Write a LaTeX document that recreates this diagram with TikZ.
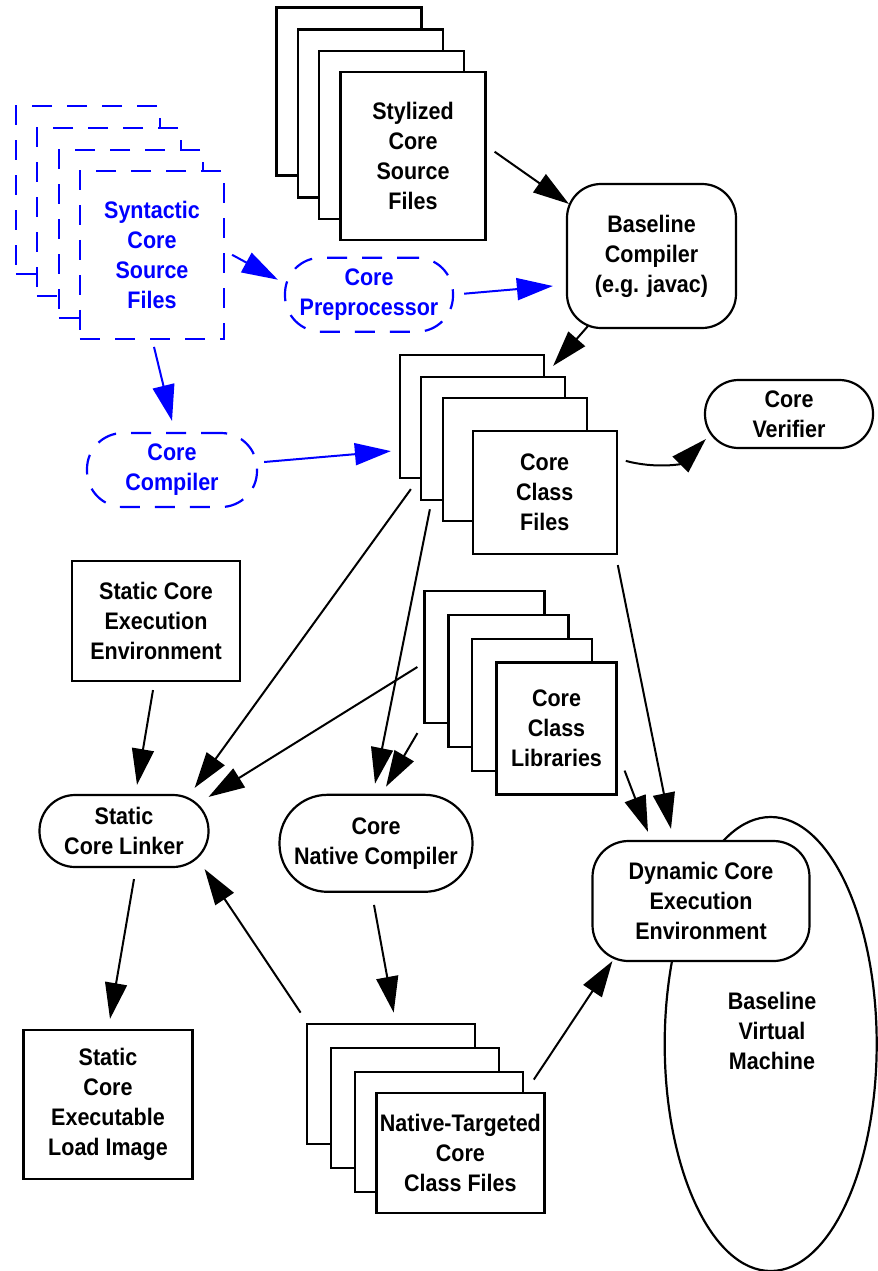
\documentclass[tikz,border=0pt]{standalone}
\usepackage{fontspec}
\setmainfont{Liberation Sans}[FakeStretch=0.9]
\usetikzlibrary{arrows.meta,shapes.geometric}

\begin{document}
\begin{tikzpicture}[x=0.25mm,y=-0.25mm,
	doc/.style={draw, fill=white, line width=0.55mm, inner sep=0pt, align=center, font=\bfseries\fontsize{17pt}{21.3pt}\selectfont},
	syn/.style={doc, draw=blue, text=blue, dash pattern=on 5mm off 3.75mm},
	srcfile/.style={doc, minimum width=36.25mm, minimum height=42mm},
	synfile/.style={syn, minimum width=36mm, minimum height=42mm},
	clsfile/.style={doc, minimum width=36mm, minimum height=30.75mm},
	libfile/.style={doc, minimum width=30mm, minimum height=33mm},
	natfile/.style={doc, minimum width=42mm, minimum height=30mm},
	proc/.style={doc, rounded corners=#1},
	arr/.style={-{Triangle[length=9mm,width=5.5mm]}, line width=0.5mm},
	synarr/.style={arr, blue}]
	\useasboundingbox (0,0) rectangle (878,1271);

	% source files
	\node[srcfile] (sty1) at (349,91.5) {};
	\node[srcfile] (sty2) at (370.5,113.5) {};
	\node[srcfile] (sty3) at (391.5,135) {};
	\node[srcfile] (sty4) at (413,155.7) {Stylized\\Core\\Source\\Files};

	\node[synfile] (syn1) at (88,190.3) {};
	\node[synfile] (syn2) at (109,212) {};
	\node[synfile] (syn3) at (131,234) {};
	\node[synfile] (syn4) at (152,254.8) {Syntactic\\Core\\Source\\Files};

	\node[syn, rounded corners=9mm, minimum width=42mm, minimum height=18.5mm] (prep) at (369,294.7) {Core\\Preprocessor};
	\node[proc=8.5mm, minimum width=42.25mm, minimum height=36mm] (bcomp) at (651.5,256) {Baseline\\Compiler\\(e.g. javac)};

	% class files
	\node[clsfile] (ccf1) at (472,416.5) {};
	\node[clsfile] (ccf2) at (493,438.7) {};
	\node[clsfile] (ccf3) at (514.7,459.7) {};
	\node[clsfile] (ccf4) at (544.7,492.5) {Core\\Class\\Files};

	\node[proc=8.4mm, minimum width=42mm, minimum height=17mm] (verif) at (789,414) {Core\\Verifier};
	\node[syn, rounded corners=9mm, minimum width=42.5mm, minimum height=18.5mm] (ccomp) at (172,470) {Core\\Compiler};

	\node[doc, minimum width=42mm, minimum height=30mm] (scee) at (156,621) {Static Core\\Execution\\Environment};
	\node[proc=8.9mm, minimum width=42.25mm, minimum height=18mm] (scl) at (124,831) {Static\\Core Linker};
	\node[proc=12mm, minimum width=48.25mm, minimum height=24.25mm] (cnc) at (376,843.3) {Core\\Native Compiler};

	% libraries
	\node[libfile] (ccl1) at (484.5,657) {};
	\node[libfile] (ccl2) at (508.5,681) {};
	\node[libfile] (ccl3) at (532.3,705) {};
	\node[libfile] (ccl4) at (556.5,728.5) {Core\\Class\\Libraries};

	% vm
	\node[ellipse, draw, line width=0.55mm, minimum width=53mm, minimum height=113.5mm, inner sep=0pt] (bvm) at (770.7,1044) {};
	\node[doc, draw=none, fill=none] (bvmtext) at (772,1031) {Baseline\\Virtual\\Machine};
	\node[proc=9mm, minimum width=54.25mm, minimum height=30mm] (dcee) at (701,901) {Dynamic Core\\Execution\\Environment};

	\node[natfile] (ntc1) at (390.7,1083.7) {};
	\node[natfile] (ntc2) at (414.9,1108) {};
	\node[natfile] (ntc3) at (438.7,1131.7) {};
	\node[natfile] (ntc4) at (460.4,1153) {Native-Targeted\\Core\\Class Files};

	\node[doc, minimum width=42.25mm, minimum height=37.25mm] (scel) at (108,1104.5) {Static\\Core\\Executable\\Load Image};

	% arrows
	\draw[arr] ([shift={(8,-4)}]sty4.east) -- ([shift={(3,21)}]bcomp.north west);
	\draw[synarr] ([shift={(7,0)}]syn4.east) -- ([shift={(-6,-15)}]prep.west);
	\draw[synarr] ([shift={(10,-1)}]prep.east) -- ([shift={(-13,30)}]bcomp.west);
	\draw[synarr] ([shift={(2,7)}]syn4.south) -- ([shift={(0,-11)}]ccomp.north);
	\draw[synarr] ([shift={(6,-8)}]ccomp.east) -- ([shift={(-8,-28)}]ccf1.south west);
	\draw[arr] ([shift={(22,-3)}]bcomp.south west) -- ([shift={(8,12)}]ccf1.north east);
	\draw[arr] ([shift={(8,31)}]ccf4.north east) .. controls +(30,8) and +(-25,25) .. ([shift={(2,25)}]verif.west);
	\draw[arr] ([shift={(12,10)}]ccf1.south west) -- ([shift={(-15,-6)}]scl.north east);
	\draw[arr] ([shift={(10,8)}]ccf2.south west) -- ([shift={(-1,-10)}]cnc.north);
	\draw[arr] ([shift={(0,10)}]ccf4.south east) -- ([shift={(-30,-11)}]dcee.north);
	\draw[arr] ([shift={(-6,10)}]ccl1.west) -- ([shift={(-1,3)}]scl.north east);
	\draw[arr] ([shift={(-6,9)}]ccl1.south west) -- ([shift={(10,-7)}]cnc.north);
	\draw[arr] ([shift={(7,-25)}]ccl4.south east) -- ([shift={(-53,-8)}]dcee.north);
	\draw[arr] ([shift={(-3,8)}]scee.south) -- ([shift={(13,-9)}]scl.north);
	\draw[arr] ([shift={(10,11)}]scl.south) -- ([shift={(2,-10)}]scel.north);
	\draw[arr] ([shift={(-5,-10)}]ntc1.north west) -- ([shift={(-5,1)}]scl.south east);
	\draw[arr] ([shift={(-2,12)}]cnc.south) -- ([shift={(3,-10)}]ntc1.north);
	\draw[arr] ([shift={(10,9)}]ntc3.north east) -- ([shift={(21,-1)}]dcee.south west);
\end{tikzpicture}
\end{document}
